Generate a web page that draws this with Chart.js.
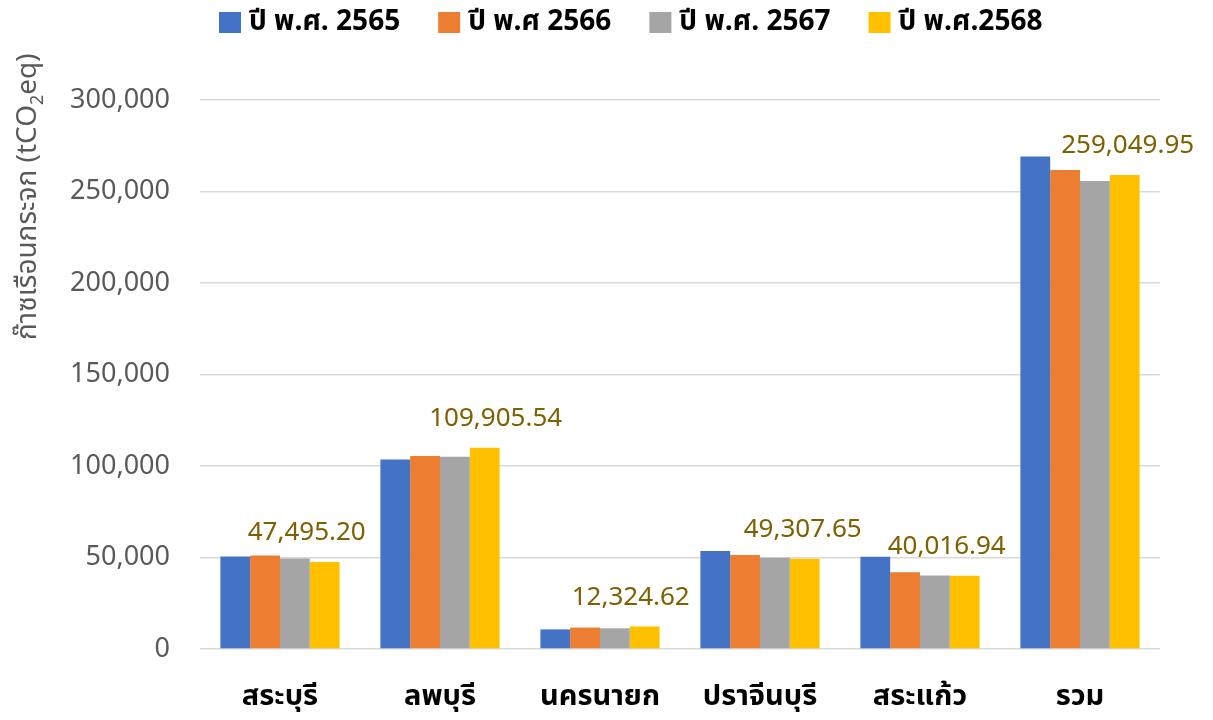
<!DOCTYPE html>
<html>
<head>
<meta charset="utf-8">
<script src="https://cdn.jsdelivr.net/npm/chart.js@4.4.0/dist/chart.umd.min.js"></script>
<style>
html,body{margin:0;padding:0;background:#fff;}
#wrap{width:1213px;height:720px;}
</style>
</head>
<body>
<div id="wrap"><canvas id="c" width="1213" height="720"></canvas></div>
<script>
const categories = ['สระบุรี', 'ลพบุรี', 'นครนายก', 'ปราจีนบุรี', 'สระแก้ว', 'รวม'];
const seriesNames = ['ปี พ.ศ. 2565', 'ปี พ.ศ 2566', 'ปี พ.ศ. 2567', 'ปี พ.ศ.2568'];
const y2565 = [50600, 103600, 10700, 53500, 50400, 269070];
const y2566 = [51150, 105500, 11700, 51300, 41900, 261790];
const y2567 = [49400, 105100, 11300, 49850, 40100, 255760];
const y2568 = [47495.20, 109905.54, 12324.62, 49307.65, 40016.94, 259049.95];
const yTicks = [0, 50000, 100000, 150000, 200000, 250000, 300000];
const colors = ['#4472C4', '#ED7D31', '#A5A5A5', '#FFC000'];

const thaiFont = '"Noto Sans Thai", "Noto Sans", "Leelawadee UI", Tahoma, sans-serif';
const numFont = '"Noto Sans", "Open Sans", sans-serif';

const legendPlugin = {
  id: 'customLegend',
  afterDraw(chart) {
    const ctx = chart.ctx;
    ctx.save();
    ctx.font = 'bold 28px ' + thaiFont;
    ctx.textBaseline = 'middle';
    ctx.textAlign = 'left';
    let x = 219;
    const yMid = 24;
    seriesNames.forEach((n, i) => {
      ctx.fillStyle = colors[i];
      ctx.fillRect(x, 12, 22, 21);
      ctx.fillStyle = '#000';
      ctx.fillText(n, x + 30, yMid);
      x += 30 + ctx.measureText(n).width + 38;
    });
    ctx.restore();
  }
};

const labelPlugin = {
  id: 'lastLabels',
  afterDatasetsDraw(chart, args, opts) {
    const ctx = chart.ctx;
    const meta = chart.getDatasetMeta(3);
    ctx.save();
    ctx.font = '26px ' + numFont;
    ctx.fillStyle = '#7F6000';
    ctx.textAlign = 'center';
    ctx.textBaseline = 'middle';
    meta.data.forEach((bar, i) => {
      const v = y2568[i];
      const t = v.toLocaleString('en-US', {minimumFractionDigits: 2, maximumFractionDigits: 2});
      ctx.fillText(t, bar.x + (opts.nudges[i] || 0), bar.y - 29);
    });
    ctx.restore();
  }
};

const titlePlugin = {
  id: 'yTitle',
  afterDraw(chart) {
    const ctx = chart.ctx;
    ctx.save();
    ctx.translate(30, 340);
    ctx.rotate(-Math.PI / 2);
    ctx.fillStyle = '#595959';
    ctx.textBaseline = 'middle';
    ctx.textAlign = 'left';
    ctx.font = '28px ' + thaiFont;
    const a = 'ก๊าซเรือนกระจก (tCO';
    ctx.fillText(a, 0, 0);
    let w = ctx.measureText(a).width;
    ctx.font = '18px ' + numFont;
    ctx.fillText('2', w, 8);
    w += ctx.measureText('2').width;
    ctx.font = '28px ' + thaiFont;
    ctx.fillText('eq)', w, 0);
    ctx.restore();
  }
};

new Chart(document.getElementById('c'), {
  type: 'bar',
  data: {
    labels: categories,
    datasets: [y2565, y2566, y2567, y2568].map((d, i) => ({
      label: seriesNames[i],
      data: d,
      backgroundColor: colors[i],
      borderWidth: 0,
      categoryPercentage: 0.745,
      barPercentage: 1.0
    }))
  },
  options: {
    responsive: false,
    animation: false,
    layout: { padding: { top: 100, right: 53, left: 0, bottom: 0 } },
    plugins: {
      legend: { display: false },
      tooltip: { enabled: false },
      lastLabels: { nudges: [-18, 11, -14, -2, -18, 3] }
    },
    scales: {
      x: {
        grid: { display: false, drawTicks: false },
        border: { display: false },
        ticks: { color: '#000', font: { family: thaiFont, size: 29, weight: 'bold' }, padding: 33 },
        afterFit: s => { s.height = 71; }
      },
      y: {
        min: 0, max: 300000,
        afterBuildTicks: s => { s.ticks = yTicks.map(v => ({ value: v })); },
        grid: { color: '#D9D9D9', lineWidth: 1.5, drawTicks: false },
        border: { display: false },
        ticks: {
          color: '#595959', padding: 30,
          font: { family: numFont, size: 27 },
          callback: v => v.toLocaleString('en-US')
        },
        afterFit: s => { s.width = 200; }
      }
    }
  },
  plugins: [legendPlugin, labelPlugin, titlePlugin]
});
</script>
</body>
</html>
